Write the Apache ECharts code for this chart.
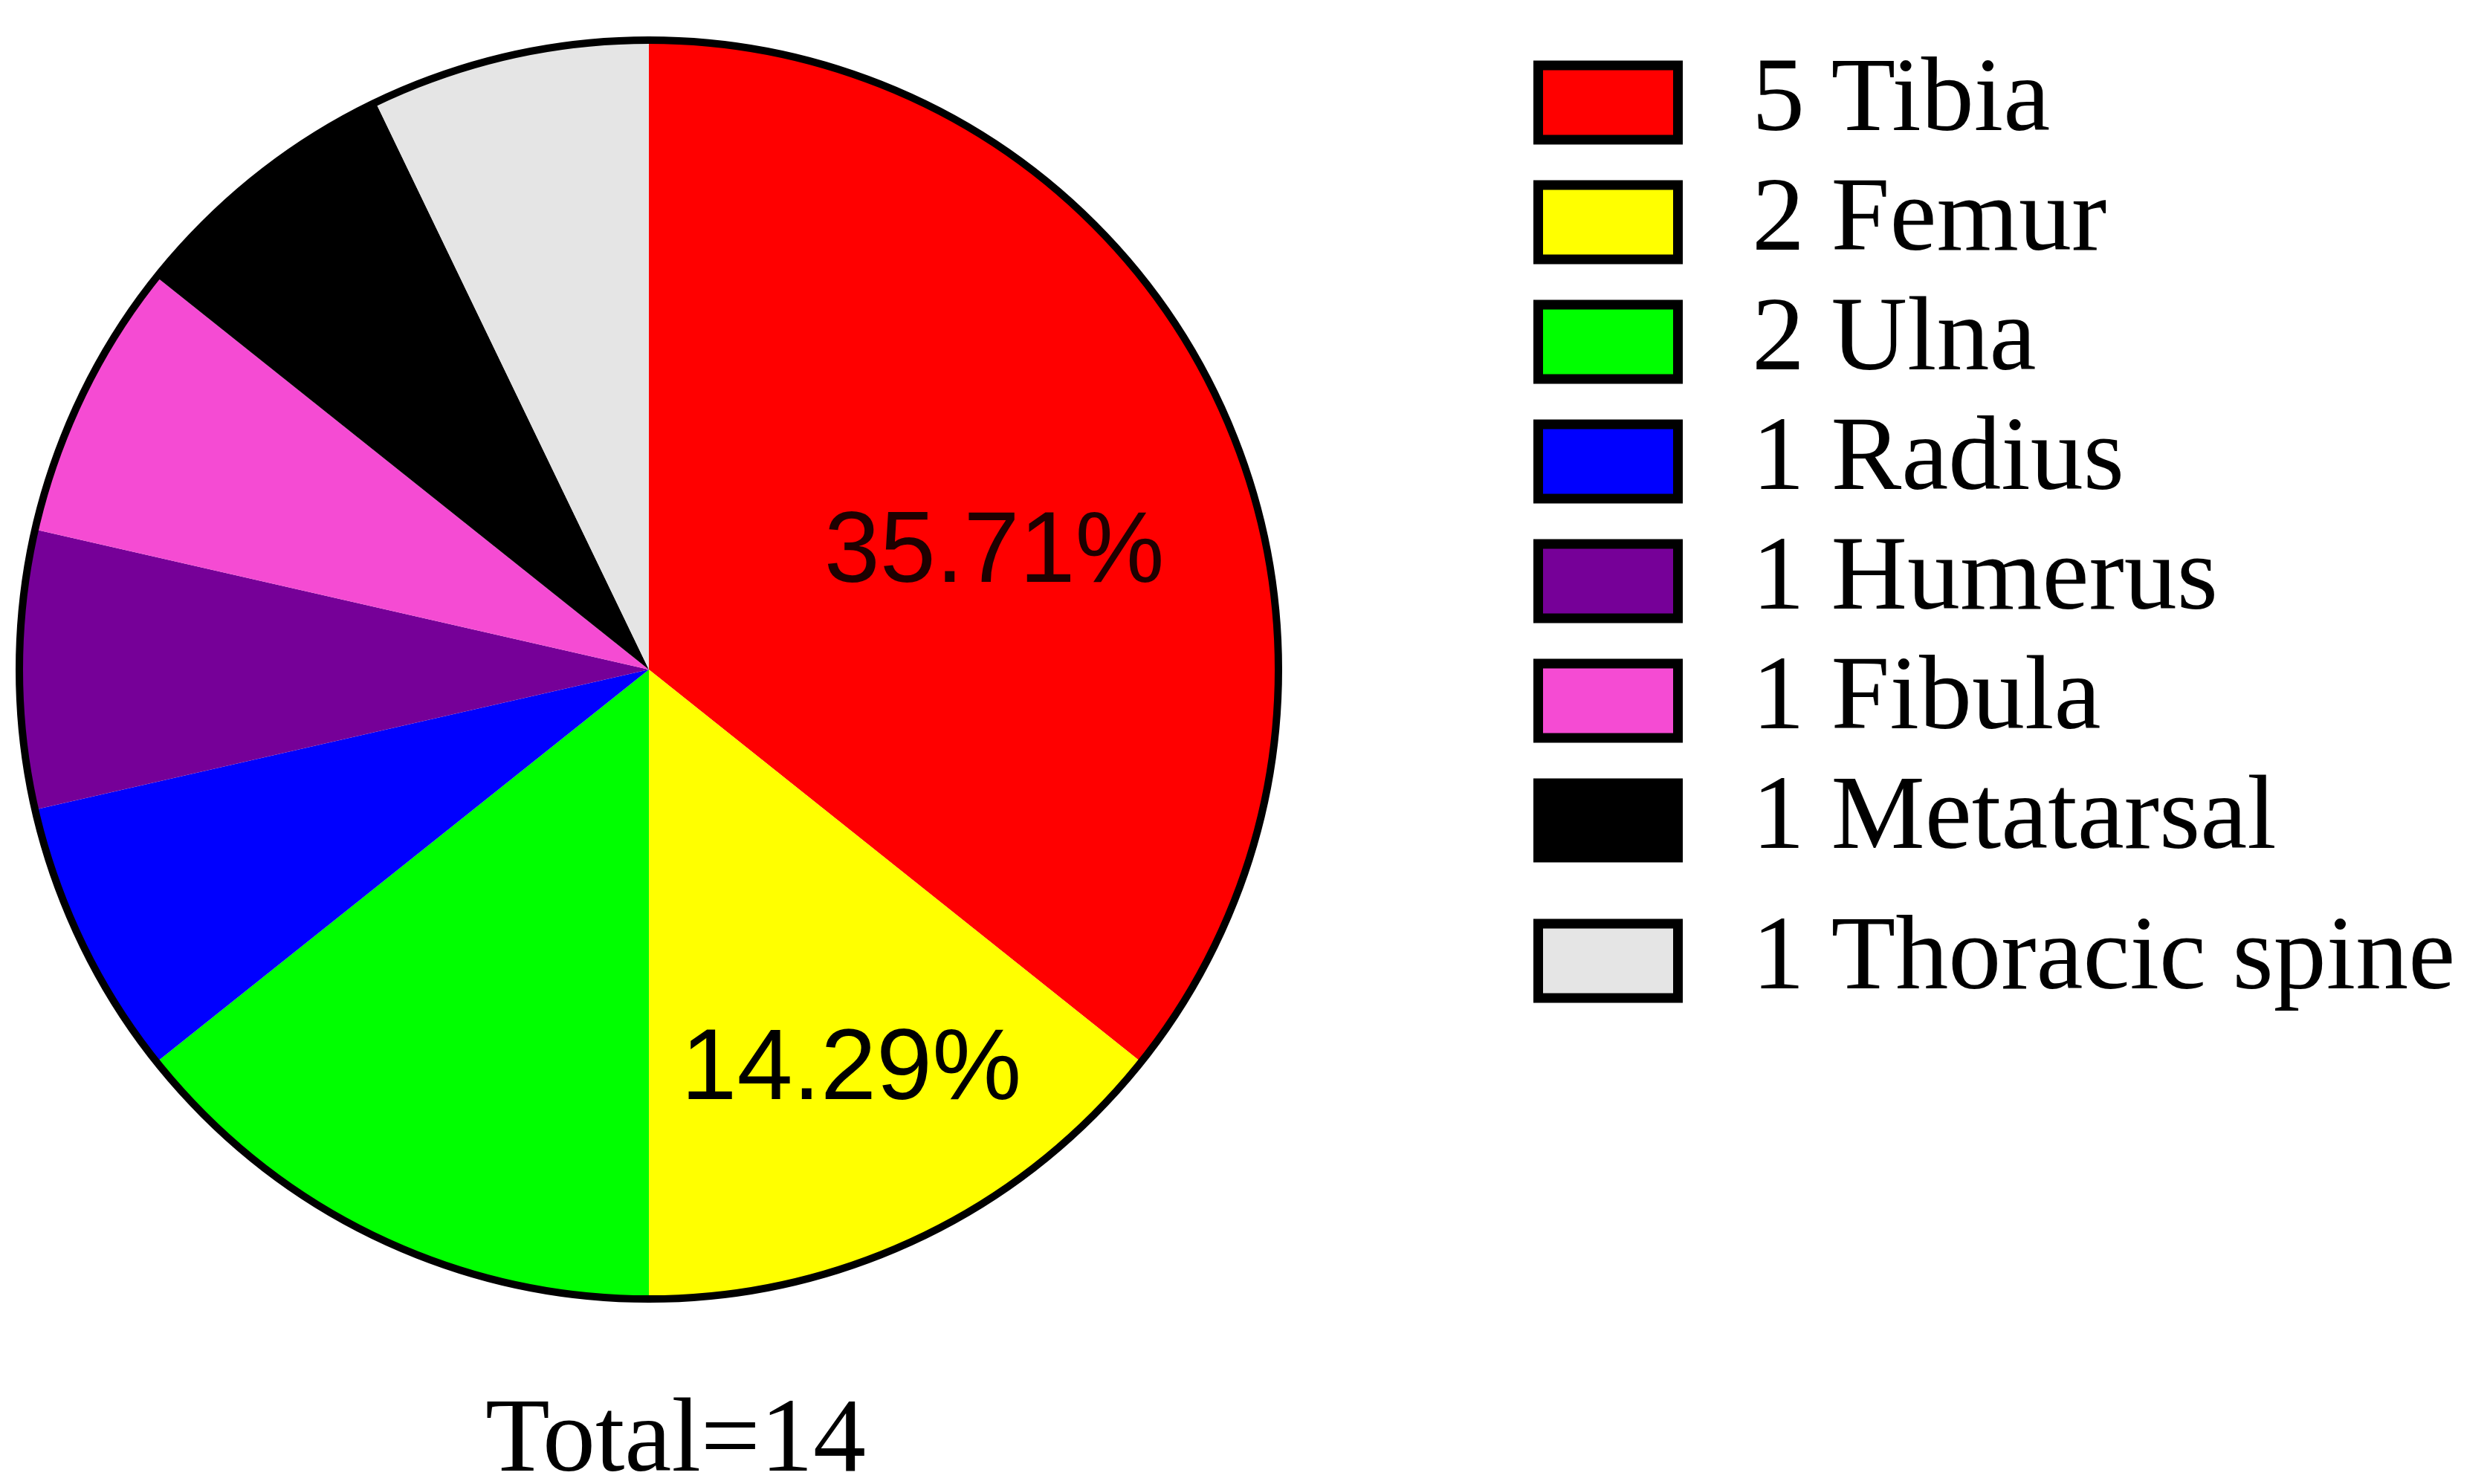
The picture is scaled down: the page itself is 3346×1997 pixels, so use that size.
<!DOCTYPE html>
<html>
<head>
<meta charset="utf-8">
<script src="https://cdn.jsdelivr.net/npm/echarts@6/dist/echarts.min.js"></script>
<style>html,body{margin:0;padding:0;background:#fff}#chart{width:3346px;height:1997px}</style>
</head>
<body>
<div id="chart"></div>
<script>
const categories = ['Tibia', 'Femur', 'Ulna', 'Radius', 'Humerus', 'Fibula', 'Metatarsal', 'Thoracic spine'];
const counts = [5, 2, 2, 1, 1, 1, 1, 1];
const colors = ['#ff0000', '#ffff00', '#00ff00', '#0000ff', '#760098', '#f54bd3', '#000000', '#e5e5e5'];
const labelledSlices = ['Tibia', 'Femur'];

const total = counts.reduce((a, b) => a + b, 0);
const labelOffsets = { 'Tibia': [80, 30], 'Femur': [87, 156] };

const pieData = categories.map((name, i) => ({
  name: name,
  value: counts[i],
  itemStyle: { color: colors[i] },
  label: labelledSlices.includes(name)
    ? { show: true, position: 'inside', offset: labelOffsets[name],
        formatter: p => (p.value / total * 100).toFixed(2) + '%',
        fontFamily: 'Liberation Sans', fontSize: 135,
        color: name === 'Tibia' ? '#1e0000' : '#000' }
    : { show: false }
}));

// legend swatches as rich-text boxes (thick black frame, slice colour fill)
const rich = { t: { fontFamily: 'Liberation Serif', fontSize: 142, color: '#000', lineHeight: 142, padding: [0, 0, 0, 106] } };
categories.forEach((name, i) => {
  rich['b' + i] = { width: 175, height: 87, lineHeight: 142, backgroundColor: colors[i], borderColor: '#000', borderWidth: 13 };
});

const legendBase = {
  orient: 'vertical',
  left: 2063,
  padding: 0,
  icon: 'none',
  itemWidth: 0,
  itemHeight: 0,
  itemGap: 19,
  textStyle: { fontFamily: 'Liberation Serif', fontSize: 142, color: '#000', rich: rich },
  formatter: name => {
    const i = categories.indexOf(name);
    return '{b' + i + '| }{t|' + counts[i] + ' ' + name + '}';
  },
  selectedMode: false
};

const chart = echarts.init(document.getElementById('chart'));
chart.setOption({
  animation: false,
  backgroundColor: '#fff',
  title: {
    text: 'Total=' + total,
    left: 909, top: 1871, textAlign: 'center', padding: 0,
    textStyle: { fontFamily: 'Liberation Serif', fontSize: 142, fontWeight: 'normal', color: '#000' }
  },
  legend: [
    Object.assign({}, legendBase, { top: 67, data: categories.slice(0, 7) }),
    Object.assign({}, legendBase, { top: 1222, data: categories.slice(7) })
  ],
  series: [
    {
      type: 'pie',
      center: [873, 901],
      radius: [0, 848],
      startAngle: 90,
      clockwise: true,
      silent: true,
      avoidLabelOverlap: false,
      minAngle: 0,
      labelLine: { show: false },
      emphasis: { disabled: true },
      data: pieData
    },
    {
      type: 'pie',
      center: [873, 901],
      radius: [0, 847],
      silent: true,
      label: { show: false },
      labelLine: { show: false },
      emphasis: { disabled: true },
      itemStyle: { color: 'rgba(0,0,0,0)', borderColor: '#000', borderWidth: 10 },
      data: [{ name: 'Total', value: total }]
    }
  ]
});
</script>
</body>
</html>
